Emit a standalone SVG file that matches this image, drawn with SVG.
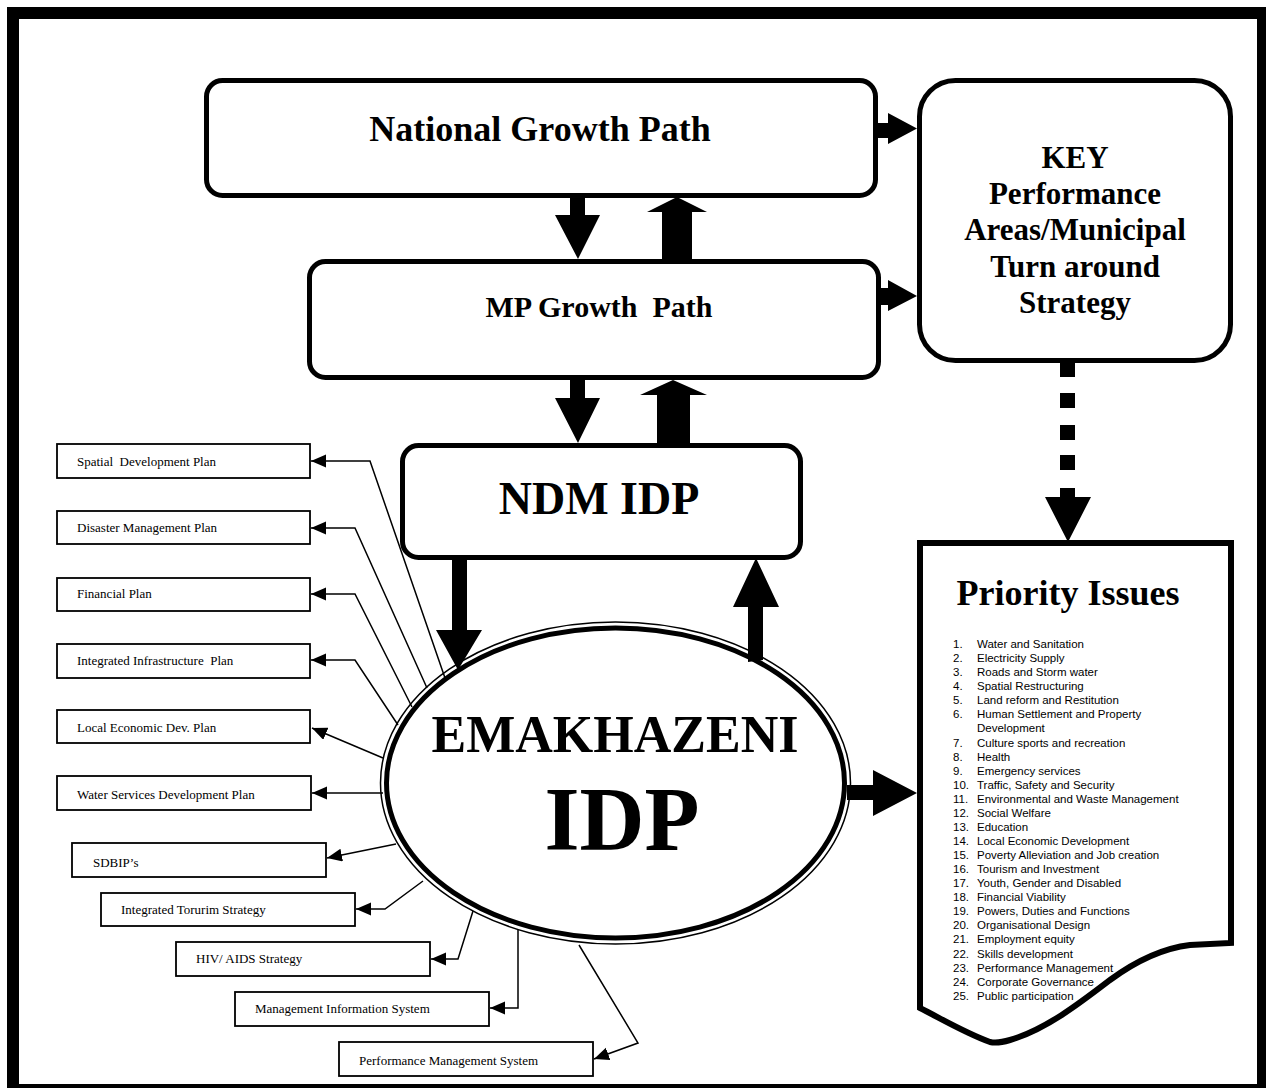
<svg xmlns="http://www.w3.org/2000/svg" width="1266" height="1088" viewBox="0 0 1266 1088">
<style>
.frame{fill:none;stroke:#000;stroke-width:12}
.rbox{fill:#fff;stroke:#000;stroke-width:5}
.sbox{fill:#fff;stroke:#000;stroke-width:1.8}
.title{font-family:"Liberation Serif","Times New Roman",serif;font-weight:bold;fill:#000;text-anchor:middle}
.small{font-family:"Liberation Serif","Times New Roman",serif;font-size:13px;fill:#000}
.list{font-family:"Liberation Sans",Arial,sans-serif;font-size:11.5px;fill:#000}
.thin{fill:none;stroke:#000;stroke-width:1.5}
.fat{fill:#000;stroke:none}
</style>
<defs>
<marker id="ah" markerUnits="userSpaceOnUse" markerWidth="16" markerHeight="14" refX="15" refY="6.5" orient="auto">
<path d="M0,0 L15,6.5 L0,13 Z" fill="#000"/>
</marker>
</defs>
<rect class="frame" x="13" y="13" width="1250" height="1077"/>

<g id="national">
<rect class="rbox" x="206.5" y="80.5" width="669" height="115" rx="16"/>
<text class="title" x="540" y="141" font-size="36">National Growth Path</text>
</g>
<g id="mp">
<rect class="rbox" x="309.5" y="261.5" width="569" height="116" rx="16"/>
<text class="title" x="599" y="317" font-size="30" xml:space="preserve">MP Growth  Path</text>
</g>
<g id="ndm">
<rect class="rbox" x="402.5" y="445.5" width="398" height="112" rx="16"/>
<text class="title" x="599" y="514" font-size="46">NDM IDP</text>
</g>
<g id="key">
<rect class="rbox" x="919.5" y="80.5" width="311" height="280" rx="36"/>
<text class="title" font-size="31"><tspan x="1075" y="168">KEY</tspan><tspan x="1075" y="204">Performance</tspan><tspan x="1075" y="240">Areas/Municipal</tspan><tspan x="1075" y="277">Turn around</tspan><tspan x="1075" y="313">Strategy</tspan></text>
</g>
<g id="emakhazeni">
<ellipse cx="615.5" cy="783" rx="235" ry="161" fill="#fff" stroke="#000" stroke-width="1.5"/>
<ellipse cx="615.5" cy="783" rx="229" ry="155" fill="#fff" stroke="#000" stroke-width="5"/>
<text class="title" x="615" y="752" font-size="52">EMAKHAZENI</text>
<text class="title" x="622" y="850" font-size="90">IDP</text>
</g>
<g id="priority">
<path d="M920,543 L1231,543 L1231,943 L1190,945 C1165,948 1140,958 1110,980 C1080,1003 1045,1030 1010,1040 C1000,1043 994,1043 990,1042 C965,1033 940,1018 920,1008 Z" fill="#fff" stroke="#000" stroke-width="6" stroke-linejoin="miter"/>
<text class="title" x="1068" y="605" font-size="36">Priority Issues</text>
<g class="list">
<text x="953" y="648">1.</text><text x="977" y="648">Water and Sanitation</text>
<text x="953" y="662.1">2.</text><text x="977" y="662.1">Electricity Supply</text>
<text x="953" y="676.1">3.</text><text x="977" y="676.1">Roads and Storm water</text>
<text x="953" y="690.2">4.</text><text x="977" y="690.2">Spatial Restructuring</text>
<text x="953" y="704.3">5.</text><text x="977" y="704.3">Land reform and Restitution</text>
<text x="953" y="718.4">6.</text><text x="977" y="718.4">Human Settlement and Property</text>
<text x="977" y="732.4">Development</text>
<text x="953" y="746.5">7.</text><text x="977" y="746.5">Culture sports and recreation</text>
<text x="953" y="760.6">8.</text><text x="977" y="760.6">Health</text>
<text x="953" y="774.6">9.</text><text x="977" y="774.6">Emergency services</text>
<text x="953" y="788.7">10.</text><text x="977" y="788.7">Traffic, Safety and Security</text>
<text x="953" y="802.8">11.</text><text x="977" y="802.8">Environmental and Waste Management</text>
<text x="953" y="816.8">12.</text><text x="977" y="816.8">Social Welfare</text>
<text x="953" y="830.9">13.</text><text x="977" y="830.9">Education</text>
<text x="953" y="845">14.</text><text x="977" y="845">Local Economic Development</text>
<text x="953" y="859">15.</text><text x="977" y="859">Poverty Alleviation and Job creation</text>
<text x="953" y="873.1">16.</text><text x="977" y="873.1">Tourism and Investment</text>
<text x="953" y="887.2">17.</text><text x="977" y="887.2">Youth, Gender and Disabled</text>
<text x="953" y="901.2">18.</text><text x="977" y="901.2">Financial Viability</text>
<text x="953" y="915.3">19.</text><text x="977" y="915.3">Powers, Duties and Functions</text>
<text x="953" y="929.4">20.</text><text x="977" y="929.4">Organisational Design</text>
<text x="953" y="943.4">21.</text><text x="977" y="943.4">Employment equity</text>
<text x="953" y="957.5">22.</text><text x="977" y="957.5">Skills development</text>
<text x="953" y="971.6">23.</text><text x="977" y="971.6">Performance Management</text>
<text x="953" y="985.6">24.</text><text x="977" y="985.6">Corporate Governance</text>
<text x="953" y="999.7">25.</text><text x="977" y="999.7">Public participation</text>
</g>
</g>

<g id="sdp"><rect class="sbox" x="57" y="444" width="253" height="34"/><text class="small" x="77" y="466" xml:space="preserve">Spatial  Development Plan</text></g>
<g id="dmp"><rect class="sbox" x="57" y="511" width="253" height="33"/><text class="small" x="77" y="532">Disaster Management Plan</text></g>
<g id="fp"><rect class="sbox" x="57" y="578" width="253" height="33"/><text class="small" x="77" y="598">Financial Plan</text></g>
<g id="iip"><rect class="sbox" x="57" y="644" width="253" height="34"/><text class="small" x="77" y="665" xml:space="preserve">Integrated Infrastructure  Plan</text></g>
<g id="led"><rect class="sbox" x="57" y="710" width="253" height="33"/><text class="small" x="77" y="732">Local Economic Dev. Plan</text></g>
<g id="wsdp"><rect class="sbox" x="57" y="776" width="254" height="34"/><text class="small" x="77" y="799" font-size="14">Water Services Development Plan</text></g>
<g id="sdbip"><rect class="sbox" x="72" y="843" width="254" height="34"/><text class="small" x="93" y="867" font-size="15.5">SDBIP’s</text></g>
<g id="its"><rect class="sbox" x="101" y="893" width="254" height="33"/><text class="small" x="121" y="914">Integrated Torurim Strategy</text></g>
<g id="hiv"><rect class="sbox" x="176" y="942" width="254" height="34"/><text class="small" x="196" y="963">HIV/ AIDS Strategy</text></g>
<g id="mis"><rect class="sbox" x="235" y="992" width="254" height="34"/><text class="small" x="255" y="1013">Management Information System</text></g>
<g id="pms"><rect class="sbox" x="339" y="1042" width="254" height="34"/><text class="small" x="359" y="1065" font-size="14">Performance Management System</text></g>

<g id="connectors">
<path class="fat" d="M570,196 H585 V215 H600 L578,259 L555,215 H570 Z"/>
<path class="fat" d="M662,259 V212 H647 L677,197 L707,212 H692 V259 Z"/>
<path class="fat" d="M570,378 H585 V398 H600 L578,443 L555,398 H570 Z"/>
<path class="fat" d="M657,444 V395 H640 L673,380 L707,395 H690 V444 Z"/>
<path class="fat" d="M876,123 H888 V113 L917,128.5 L888,144 V138 H876 Z"/>
<path class="fat" d="M879,288 H888 V280 L917,296 L888,311 V305 H879 Z"/>
<path class="fat" d="M1060,363 h15 v14 h-15 Z M1060,393 h15 v15 h-15 Z M1060,425 h15 v15 h-15 Z M1060,455 h15 v15 h-15 Z M1060,488 h15 v9 h16 L1068,542 L1045,497 h15 Z"/>
<path class="fat" d="M452,558 H467 V630 H482 L458,670 L436,630 H452 Z"/>
<path class="fat" d="M748,662 V607 H733 L756,558 L779,607 H763 V660 Z"/>
<path class="fat" d="M847,785 H873 V770 L917,793 L873,816 V800 H847 Z"/>
<path class="thin" marker-end="url(#ah)" d="M445,678 L370,461 L311,461"/>
<path class="thin" marker-end="url(#ah)" d="M427,688 L355,528 L311,528"/>
<path class="thin" marker-end="url(#ah)" d="M412,707 L355,594 L311,594"/>
<path class="thin" marker-end="url(#ah)" d="M398,725 L355,660 L311,660"/>
<path class="thin" marker-end="url(#ah)" d="M383,758 L312,728"/>
<path class="thin" marker-end="url(#ah)" d="M383,793 L312,793"/>
<path class="thin" marker-end="url(#ah)" d="M396,844 L327,858"/>
<path class="thin" marker-end="url(#ah)" d="M423,881 L385,909 L356,909"/>
<path class="thin" marker-end="url(#ah)" d="M473,911 L458,959 L431,959"/>
<path class="thin" marker-end="url(#ah)" d="M518,930 L518,1008 L490,1008"/>
<path class="thin" marker-end="url(#ah)" d="M579,945 L638,1043 L594,1059"/>
</g>
</svg>
